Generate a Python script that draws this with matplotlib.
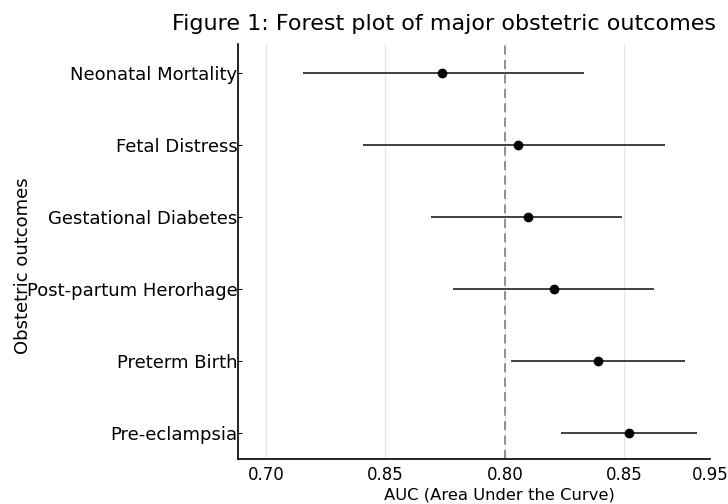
import matplotlib
matplotlib.use("Agg")
import matplotlib.pyplot as plt

outcomes = ["Neonatal Mortality", "Fetal Distress", "Gestational Diabetes",
            "Post-partum Herorhage", "Preterm Birth", "Pre-eclampsia"]
auc = [0.7735, 0.8056, 0.8095, 0.8205, 0.8389, 0.8519]
ci_low = [0.7155, 0.7405, 0.7691, 0.7781, 0.8026, 0.8235]
ci_high = [0.8330, 0.8670, 0.8490, 0.8623, 0.8752, 0.8802]
tick_pos = [0.70, 0.75, 0.80, 0.85, 0.8857]
tick_labels = ["0.70", "0.85", "0.80", "0.85", "0.95"]
ref_line = 0.80

fig = plt.figure(figsize=(7.28, 5.04), dpi=100)
ax = fig.add_axes([0.327, 0.089, 0.648, 0.824])

ypos = list(range(len(outcomes)))[::-1]
ax.hlines(ypos, ci_low, ci_high, color="#333333", linewidth=1.3, zorder=2)
ax.plot(auc, ypos, "o", color="black", markersize=6, zorder=3)
ax.axvline(ref_line, color="#888888", linestyle=(0, (5, 3)), linewidth=1.3, zorder=1)

ax.set_xlim(0.6884, 0.8857)
ax.set_ylim(-0.36, 5.4)
ax.set_xticks(tick_pos)
ax.set_xticklabels(tick_labels, fontsize=12)
ax.set_yticks(ypos)
ax.set_yticklabels(outcomes, fontsize=13)
ax.tick_params(axis="x", length=0, pad=5)
ax.tick_params(axis="y", length=3, direction="in", pad=0.5)
ax.grid(axis="x", color="#e6e6e6", linewidth=0.9, zorder=0)
ax.set_axisbelow(True)
for s in ["top", "right"]:
    ax.spines[s].set_visible(False)
ax.spines["left"].set_linewidth(1.2)
ax.spines["bottom"].set_linewidth(1.2)

ax.set_xlabel("AUC (Area Under the Curve)", fontsize=11.8, labelpad=1)
ax.xaxis.set_label_coords(0.555, -0.068)
ax.xaxis.label.set_va("top")
ax.set_ylabel("Obstetric outcomes", fontsize=13)
ax.yaxis.set_label_coords(-0.436, 0.465)
ax.set_title("Figure 1: Forest plot of major obstetric outcomes", fontsize=16, loc="right", pad=10, x=1.013)

fig.savefig("out.png", dpi=100)
